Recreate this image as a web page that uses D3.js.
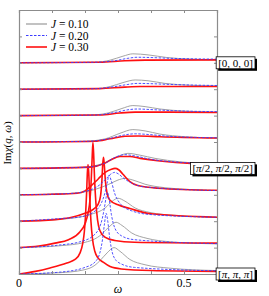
<!DOCTYPE html>
<html lang="en">
<head>
<meta charset="UTF-8">
<script src="https://d3js.org/d3.v7.min.js"></script>
<style>
  body { margin: 0; background: #fff; }
</style>
</head>
<body>
<div id="chart"></div>
<script>
// legend entries
const jLabels = ["0.10", "0.20", "0.30"];
// q points, bottom to top (offset index 0..8)
const qLabels = ["[\u03c0, \u03c0, \u03c0]", "", "", "", "[\u03c0/2, \u03c0/2, \u03c0/2]", "", "", "", "[0, 0, 0]"];
const xTickValues = [0, 0.1, 0.2, 0.3, 0.4, 0.5, 0.6];
const xTickLabels = {0: "0", 0.5: "0.5"};

// curves as [omega, Im chi] points, one list per q (offset index 0..8)
const grayJ10 = [
  [[0,0],[0.124,0.05],[0.194,0.15],[0.23,0.33],[0.245,0.5],[0.267,0.8],[0.288,1.0],[0.306,0.86],[0.336,0.55],[0.382,0.35],[0.458,0.22],[0.6,0.13]],
  [[0,0],[0.124,0.07],[0.2,0.2],[0.23,0.33],[0.245,0.45],[0.27,0.75],[0.294,0.96],[0.312,0.84],[0.342,0.55],[0.388,0.35],[0.458,0.22],[0.6,0.14]],
  [[0,0],[0.124,0.07],[0.215,0.25],[0.261,0.5],[0.282,0.75],[0.3,0.87],[0.321,0.76],[0.352,0.5],[0.397,0.33],[0.473,0.22],[0.6,0.15]],
  [[0,0],[0.155,0.05],[0.23,0.2],[0.276,0.42],[0.3,0.56],[0.321,0.62],[0.345,0.56],[0.382,0.4],[0.442,0.27],[0.6,0.16]],
  [[0,0],[0.185,0.04],[0.245,0.15],[0.291,0.4],[0.33,0.57],[0.367,0.5],[0.412,0.38],[0.488,0.25],[0.6,0.17]],
  [[0,0],[0.2,0.03],[0.261,0.12],[0.306,0.33],[0.345,0.47],[0.382,0.42],[0.427,0.3],[0.503,0.2],[0.6,0.15]],
  [[0,0],[0.215,0.02],[0.27,0.1],[0.312,0.27],[0.345,0.38],[0.382,0.34],[0.427,0.25],[0.503,0.17],[0.6,0.13]],
  [[0,0],[0.23,0.02],[0.276,0.1],[0.315,0.25],[0.352,0.35],[0.391,0.32],[0.442,0.22],[0.518,0.15],[0.6,0.12]],
  [[0,0],[0.23,0.02],[0.276,0.1],[0.315,0.25],[0.345,0.34],[0.391,0.3],[0.448,0.2],[0.518,0.14],[0.6,0.11]]
];
const blueJ20 = [
  [[0,0],[0.124,0.07],[0.2,0.25],[0.23,0.45],[0.245,0.8],[0.253,1.3],[0.259,1.9],[0.264,2.3],[0.269,2.0],[0.275,1.35],[0.282,0.85],[0.292,0.55],[0.31,0.38],[0.35,0.25],[0.6,0.12]],
  [[0,0],[0.124,0.1],[0.185,0.22],[0.225,0.45],[0.248,0.9],[0.258,1.45],[0.264,1.9],[0.268,2.1],[0.273,1.85],[0.28,1.25],[0.29,0.75],[0.31,0.45],[0.35,0.3],[0.6,0.15]],
  [[0,0],[0.124,0.1],[0.185,0.16],[0.224,0.33],[0.25,0.7],[0.262,1.15],[0.268,1.5],[0.273,1.75],[0.279,1.55],[0.29,1.05],[0.31,0.62],[0.34,0.4],[0.4,0.25],[0.6,0.15]],
  [[0,0],[0.155,0.05],[0.215,0.18],[0.245,0.38],[0.265,0.62],[0.28,0.8],[0.29,0.85],[0.3,0.8],[0.318,0.62],[0.34,0.45],[0.38,0.3],[0.6,0.16]],
  [[0,0],[0.2,0.04],[0.261,0.2],[0.291,0.42],[0.321,0.52],[0.352,0.47],[0.397,0.35],[0.488,0.23],[0.6,0.18]],
  [[0,0],[0.215,0.03],[0.27,0.12],[0.312,0.25],[0.352,0.31],[0.397,0.28],[0.458,0.21],[0.6,0.16]],
  [[0,0],[0.23,0.02],[0.291,0.12],[0.33,0.22],[0.358,0.25],[0.397,0.23],[0.458,0.19],[0.6,0.15]],
  [[0,0],[0.23,0.02],[0.291,0.1],[0.33,0.18],[0.358,0.22],[0.397,0.21],[0.458,0.18],[0.6,0.14]],
  [[0,0],[0.23,0.02],[0.291,0.08],[0.33,0.17],[0.358,0.21],[0.397,0.2],[0.458,0.17],[0.6,0.14]]
];
const redJ30 = [
  [[0,0],[0.05,0.1],[0.094,0.23],[0.145,0.42],[0.17,0.55],[0.185,0.8],[0.193,1.15],[0.198,1.6],[0.202,2.3],[0.205,3.1],[0.207,3.8],[0.209,4.15],[0.211,3.9],[0.214,3.0],[0.218,2.0],[0.223,1.3],[0.23,0.85],[0.24,0.6],[0.255,0.45],[0.276,0.28],[0.31,0.19],[0.4,0.13],[0.6,0.1]],
  [[0,0],[0.06,0.06],[0.109,0.17],[0.15,0.3],[0.185,0.6],[0.2,0.9],[0.21,1.35],[0.215,1.8],[0.219,2.6],[0.222,3.5],[0.224,3.98],[0.226,3.6],[0.229,2.6],[0.233,1.7],[0.238,1.05],[0.245,0.65],[0.26,0.4],[0.29,0.27],[0.35,0.2],[0.6,0.17]],
  [[0,0],[0.109,0.06],[0.16,0.15],[0.2,0.3],[0.225,0.45],[0.24,0.65],[0.247,0.95],[0.251,1.5],[0.254,2.2],[0.256,2.42],[0.258,2.2],[0.262,1.5],[0.267,1.05],[0.275,0.8],[0.3,0.62],[0.336,0.48],[0.4,0.28],[0.6,0.15]],
  [[0,0],[0.1,0.02],[0.176,0.06],[0.2,0.15],[0.215,0.3],[0.24,0.6],[0.261,0.85],[0.28,0.97],[0.291,1.0],[0.302,0.95],[0.315,0.78],[0.336,0.5],[0.36,0.35],[0.42,0.25],[0.6,0.17]],
  [[0,0],[0.215,0.05],[0.261,0.2],[0.282,0.35],[0.306,0.45],[0.336,0.45],[0.367,0.38],[0.427,0.28],[0.521,0.19],[0.6,0.17]],
  [[0,0],[0.23,0.03],[0.276,0.12],[0.321,0.22],[0.361,0.23],[0.427,0.2],[0.6,0.15]],
  [[0,0],[0.245,0.02],[0.306,0.1],[0.352,0.13],[0.458,0.13],[0.6,0.12]],
  [[0,0],[0.245,0.02],[0.321,0.08],[0.367,0.1],[0.6,0.1]],
  [[0,0],[0.245,0.02],[0.321,0.08],[0.382,0.1],[0.6,0.11]]
];

const W = 269, H = 296;
const margin = {left: 19, right: 52, top: 10, bottom: 22};
const serif = "'Liberation Serif', 'Times New Roman', 'DejaVu Serif', serif";

const svg = d3.select("#chart").append("svg")
  .attr("width", W).attr("height", H)
  .attr("font-family", serif);

const x = d3.scaleLinear().domain([0, 0.6]).range([margin.left, W - margin.right]);
const y = d3.scaleLinear().domain([0, 10]).range([H - margin.bottom, margin.top]);

const line = d3.line()
  .x(d => x(d[0]))
  .curve(d3.curveMonotoneX);

function drawSet(data, color, width, dash) {
  data.forEach((pts, i) => {
    svg.append("path")
      .datum(pts)
      .attr("fill", "none")
      .attr("stroke", color)
      .attr("stroke-width", width)
      .attr("stroke-dasharray", dash)
      .attr("d", line.y(d => y(d[1] + i)));
  });
}

drawSet(grayJ10, "#9a9a9a", 0.9, null);
drawSet(redJ30, "#ff1010", 1.6, null);
drawSet(blueJ20, "#3c3cff", 0.9, "2.5,1.5");

// axes (ticks inward on all four sides)
const axisColor = "#8c8c8c";
const gB = svg.append("g").attr("transform", `translate(0,${y(0)})`)
  .call(d3.axisBottom(x).tickValues(xTickValues).tickSize(-3).tickFormat(""));
const gT = svg.append("g").attr("transform", `translate(0,${y(10)})`)
  .call(d3.axisTop(x).tickValues(xTickValues).tickSize(-3).tickFormat(""));
const yTicks = d3.range(0, 11);
const gL = svg.append("g").attr("transform", `translate(${x(0)},0)`)
  .call(d3.axisLeft(y).tickValues(yTicks).tickSize(-3).tickFormat(""));
const gR = svg.append("g").attr("transform", `translate(${x(0.6)},0)`)
  .call(d3.axisRight(y).tickValues(yTicks).tickSize(-3).tickFormat(""));
[gB, gT, gL, gR].forEach(g => {
  g.selectAll(".domain").attr("stroke", axisColor).attr("stroke-width", 1.2);
  g.selectAll(".tick line").attr("stroke", axisColor);
});

// x tick labels
Object.keys(xTickLabels).forEach(k => {
  svg.append("text")
    .attr("x", x(+k)).attr("y", y(0) + 13)
    .attr("text-anchor", "middle")
    .attr("font-size", 12)
    .text(xTickLabels[k]);
});

// axis titles
svg.append("text")
  .attr("x", x(0.3)).attr("y", H - 3)
  .attr("text-anchor", "middle")
  .attr("font-size", 12).attr("font-style", "italic")
  .text("\u03c9");

const yl = svg.append("text")
  .attr("transform", `translate(11,${y(5) + 1}) rotate(-90)`)
  .attr("text-anchor", "middle")
  .attr("font-size", 11);
yl.append("tspan").text("Im");
yl.append("tspan").attr("font-style", "italic").text("\u03c7");
yl.append("tspan").text("(");
yl.append("tspan").attr("font-style", "italic").text("q");
yl.append("tspan").text(", ");
yl.append("tspan").attr("font-style", "italic").text("\u03c9");
yl.append("tspan").text(")");

// legend
const legColors = ["#9a9a9a", "#3c3cff", "#ff1010"];
const legWidths = [1.2, 1, 1.6];
const legDash = [null, "2.5,1.5", null];
jLabels.forEach((lab, i) => {
  const ly = 24 + i * 11.5;
  svg.append("line")
    .attr("x1", 26).attr("x2", 47).attr("y1", ly).attr("y2", ly)
    .attr("stroke", legColors[i]).attr("stroke-width", legWidths[i])
    .attr("stroke-dasharray", legDash[i]);
  const t = svg.append("text").attr("x", 51).attr("y", ly + 4).attr("font-size", 11.5);
  t.append("tspan").attr("font-style", "italic").text("J");
  t.append("tspan").text(" = " + lab);
});

// q labels in shadowed boxes at the right
qLabels.forEach((lab, i) => {
  if (!lab) return;
  const cy = y(i);
  const t = svg.append("text")
    .attr("font-size", 11)
    .attr("fill", "#000")
    .attr("y", cy + 4);
  lab.split(/(\u03c0)/).forEach(p => {
    const s = t.append("tspan").text(p);
    if (p === "\u03c0") s.attr("font-style", "italic");
  });
  const bw = t.node().getComputedTextLength() + 4;
  const bx = 255 - bw;
  t.attr("x", bx + 2);
  svg.insert("rect", () => t.node())
    .attr("x", bx + 2).attr("y", cy - 6 + 2).attr("width", bw).attr("height", 12)
    .attr("fill", "#000");
  svg.insert("rect", () => t.node())
    .attr("x", bx).attr("y", cy - 6).attr("width", bw).attr("height", 12)
    .attr("fill", "#fff").attr("stroke", "#000").attr("stroke-width", 0.8);
});
</script>
</body>
</html>
